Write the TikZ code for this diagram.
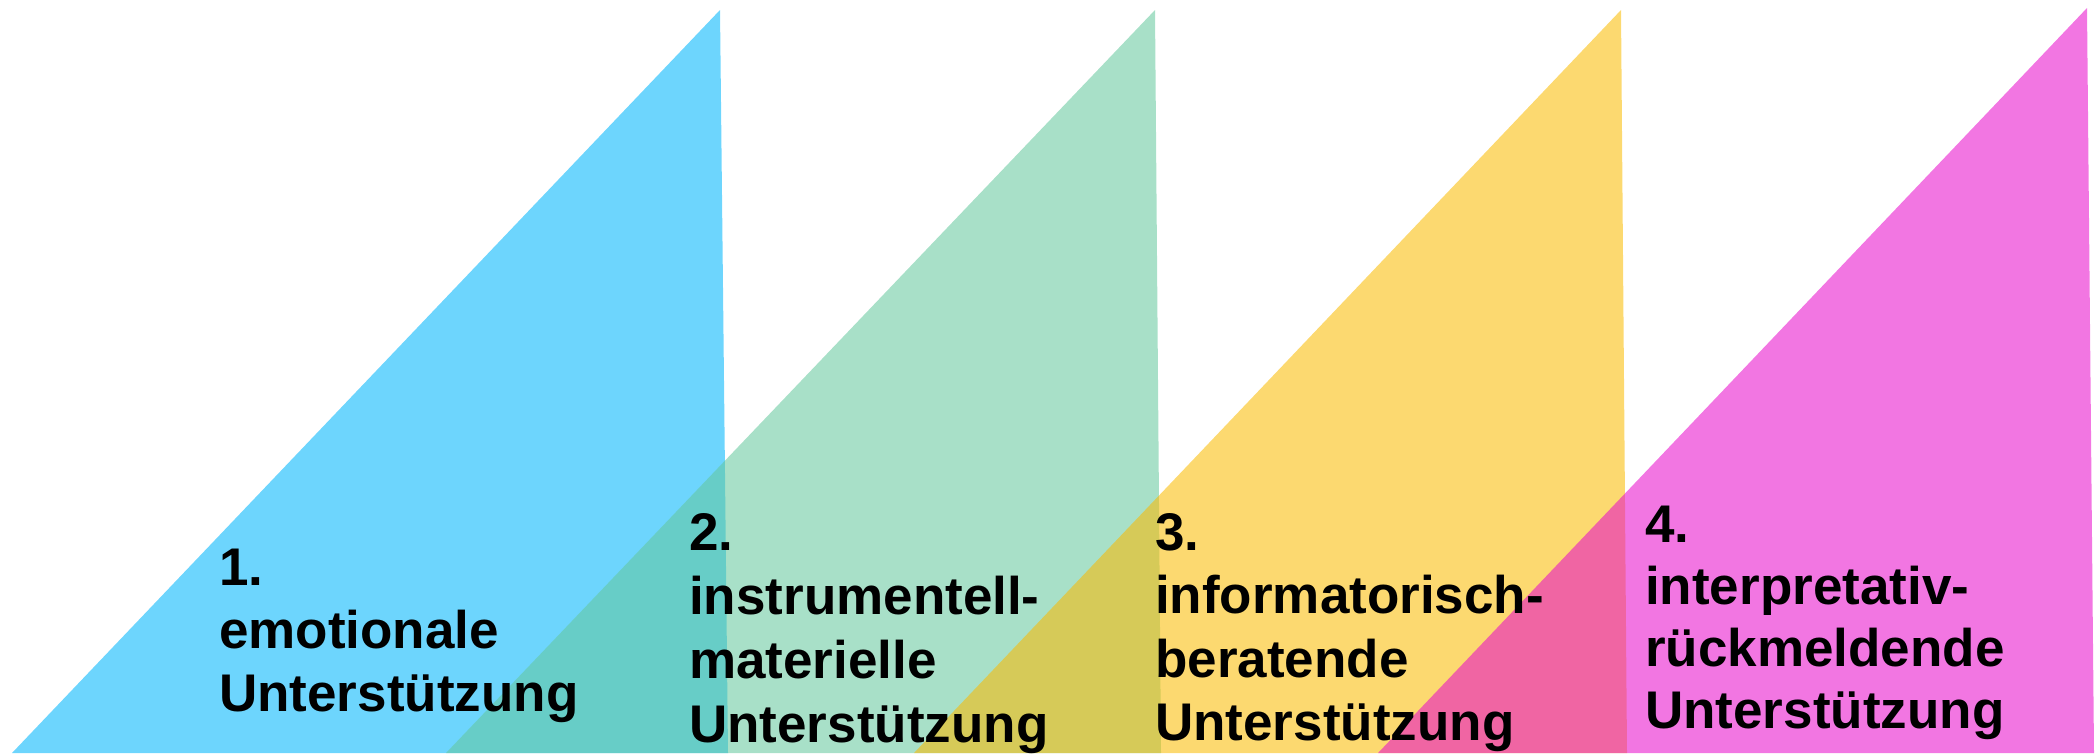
\documentclass[tikz,border=0pt]{standalone}
\usepackage{fontspec}
\setmainfont{Liberation Sans}
\definecolor{cblue}{RGB}{109,213,253}
\definecolor{cgreen}{RGB}{100,200,157}
\definecolor{cyellow}{RGB}{250,187,0}
\definecolor{cpink}{RGB}{232,11,204}
\begin{document}
\begin{tikzpicture}[x=1pt,y=-1pt,
  tri/.style={draw=none, fill opacity=0.56},
  lbl/.style={anchor=base west, inner sep=0pt, text=black,
    font=\fontsize{53}{63}\selectfont\bfseries}]
\useasboundingbox (0,0) rectangle (2098,753);
\begin{scope}
\clip (0,0) rectangle (2098,753);
\fill[cblue] (12,753) -- (720,10) -- (728,753) -- cycle;
\fill[cgreen, tri] (446,753) -- (1155,10) -- (1161,753) -- cycle;
\fill[cyellow, tri] (914,753) -- (1621,10) -- (1627,753) -- cycle;
\fill[cpink, tri] (1378,753) -- (2087,8) -- (2094,753) -- cycle;
\end{scope}
% block 1
\node[lbl] (a1) at (219,585) {1.};
\node[lbl] (a2) at (219,648) {emotionale};
\node[lbl] (a3) at (219,711) {Unterstützung};
% block 2
\node[lbl] (b1) at (689,550) {2.};
\node[lbl] (b2) at (689,614) {instrumentell-};
\node[lbl] (b3) at (689,678) {materielle};
\node[lbl] (b4) at (689,742) {Unterstützung};
% block 3
\node[lbl] (c1) at (1155,550) {3.};
\node[lbl] (c2) at (1155,613) {informatorisch-};
\node[lbl] (c3) at (1155,677) {beratende};
\node[lbl] (c4) at (1155,740) {Unterstützung};
% block 4
\node[lbl] (d1) at (1645,542) {4.};
\node[lbl] (d2) at (1645,604) {interpretativ-};
\node[lbl] (d3) at (1645,666) {rückmeldende};
\node[lbl] (d4) at (1645,728) {Unterstützung};
\end{tikzpicture}
\end{document}
